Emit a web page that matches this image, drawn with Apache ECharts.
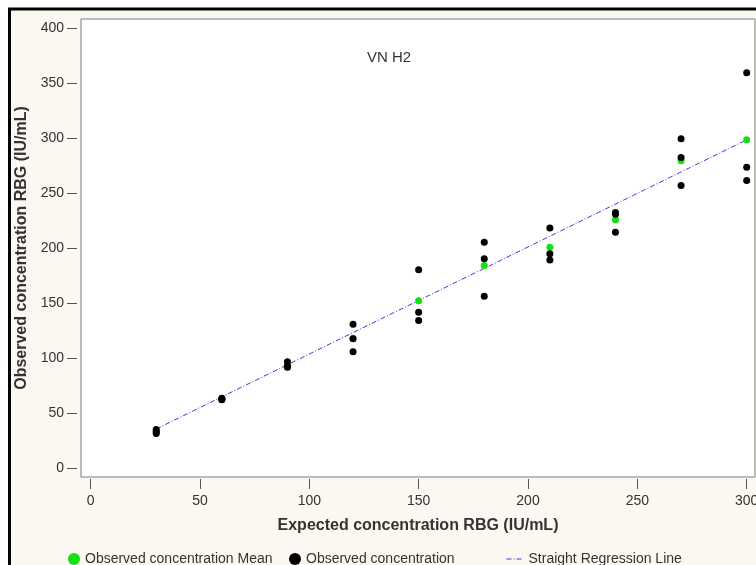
<!DOCTYPE html>
<html>
<head>
<meta charset="utf-8">
<script src="https://cdn.jsdelivr.net/npm/echarts@6/dist/echarts.min.js"></script>
<style>
html,body{margin:0;padding:0;background:#fff;}
#chart{width:756px;height:565px;}
</style>
</head>
<body>
<div id="chart"></div>
<script>
// ---- data ----
var expected = [30, 60, 90, 120, 150, 180, 210, 240, 270, 300];
var observedA = [35.5, 64, 97, 131, 180.5, 205.5, 218.5, 232.5, 299.5, 359.5];
var observedB = [33.5, 63, 93, 118, 142, 190.5, 195, 231, 282.5, 273.5];
var observedC = [32, 62.5, 92, 106, 134.5, 156.5, 189.5, 214.5, 257, 261.5];
var observedMean = [33.7, 63.2, 94, 118.3, 152.5, 184.5, 201, 226, 279.5, 298.5];
var regressionX = [30, 300];
var regressionY = [36, 298.5];
var xTicks = [0, 50, 100, 150, 200, 250, 300];
var yTicks = [0, 50, 100, 150, 200, 250, 300, 350, 400];

var meanData = expected.map(function (x, i) { return [x, observedMean[i]]; });
var obsData = [];
[observedA, observedB, observedC].forEach(function (arr) {
  expected.forEach(function (x, i) { obsData.push([x, arr[i]]); });
});
var regData = regressionX.map(function (x, i) { return [x, regressionY[i]]; });

var font = "'Liberation Sans', Arial, sans-serif";
var chart = echarts.init(document.getElementById('chart'));
chart.setOption({
  animation: false,
  backgroundColor: '#ffffff',
  graphic: [{
    type: 'rect', z: -100, silent: true,
    shape: { x: 9.5, y: 9, width: 800, height: 600 },
    style: { fill: '#faf8f1', stroke: '#000', lineWidth: 3 }
  }],
  title: {
    text: 'VN H2', left: 362, top: 45,
    textStyle: { fontFamily: font, fontSize: 15, fontWeight: 'normal', color: '#333' }
  },
  grid: {
    left: 81, top: 19, right: 1, bottom: 88,
    outerBoundsMode: 'none', containLabel: false,
    show: true, backgroundColor: '#ffffff', borderColor: '#7a7a7a', borderWidth: 1
  },
  xAxis: {
    type: 'value', min: -4.4, max: 303.8, offset: 2,
    name: 'Expected concentration RBG (IU/mL)', nameLocation: 'middle', nameGap: 39,
    nameTextStyle: { fontFamily: font, fontSize: 16, fontWeight: 'bold', color: '#333' },
    axisLine: { show: false, onZero: false },
    splitLine: { show: false },
    axisTick: { show: true, inside: false, length: 10, customValues: xTicks, lineStyle: { color: '#555' } },
    axisLabel: { customValues: xTicks, margin: 15, fontFamily: font, fontSize: 14, color: '#333' }
  },
  yAxis: {
    type: 'value', min: -7.6, max: 408.2, offset: 4,
    name: 'Observed concentration RBG (IU/mL)', nameLocation: 'middle', nameGap: 47,
    nameTextStyle: { fontFamily: font, fontSize: 16, fontWeight: 'bold', color: '#333' },
    axisLine: { show: false, onZero: false },
    splitLine: { show: false },
    axisTick: { show: true, inside: false, length: 10, customValues: yTicks, lineStyle: { color: '#555' } },
    axisLabel: { customValues: yTicks, margin: 13, fontFamily: font, fontSize: 14, color: '#333' }
  },
  legend: [
    { data: ['Observed concentration Mean'], left: 63, top: 547, itemWidth: 12, itemHeight: 12,
      textStyle: { fontFamily: font, fontSize: 14, color: '#333' } },
    { data: ['Observed concentration'], left: 284, top: 547, itemWidth: 12, itemHeight: 12,
      textStyle: { fontFamily: font, fontSize: 14, color: '#333' } },
    { data: ['Straight Regression Line'], left: 501, top: 547, itemWidth: 17, itemHeight: 12,
      itemStyle: { opacity: 0 },
      lineStyle: { color: '#3b3bd6', width: 1, type: [5, 2, 1, 2] },
      textStyle: { fontFamily: font, fontSize: 14, color: '#333' } }
  ],
  series: [
    {
      name: 'Straight Regression Line', type: 'line', data: regData, z: 1,
      symbol: 'none', lineStyle: { color: '#3b3bd6', width: 1, type: [5, 2, 1, 2] },
      itemStyle: { color: '#3b3bd6' }
    },
    {
      name: 'Observed concentration Mean', type: 'scatter', data: meanData, z: 2,
      symbol: 'circle', symbolSize: 7, itemStyle: { color: '#14e014', opacity: 1 }
    },
    {
      name: 'Observed concentration', type: 'scatter', data: obsData, z: 3,
      symbol: 'circle', symbolSize: 7, itemStyle: { color: '#000', opacity: 1 }
    }
  ]
});
</script>
</body>
</html>
